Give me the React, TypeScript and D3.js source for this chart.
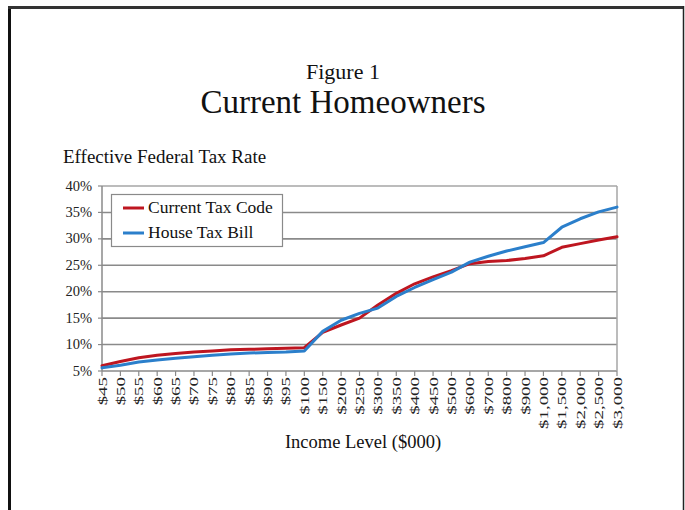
import React from "react";
import * as d3 from "d3";

const categories = ["$45","$50","$55","$60","$65","$70","$75","$80","$85","$90","$95","$100","$150","$200","$250","$300","$350","$400","$450","$500","$600","$700","$800","$900","$1,000","$1,500","$2,000","$2,500","$3,000"];
const currentTaxCode = [6.0,6.8,7.5,8.0,8.3,8.6,8.8,9.0,9.1,9.2,9.3,9.4,12.3,13.7,15.0,17.5,19.7,21.5,22.8,24.0,25.3,25.7,25.9,26.3,26.8,28.4,29.1,29.8,30.4];
const houseTaxBill = [5.6,6.1,6.7,7.1,7.4,7.7,8.0,8.2,8.4,8.5,8.6,8.8,12.5,14.6,15.9,16.9,19.1,20.8,22.3,23.7,25.6,26.7,27.7,28.5,29.3,32.2,33.8,35.1,36.0];
const yTicks = [5,10,15,20,25,30,35,40];
const seriesNames = ["Current Tax Code","House Tax Bill"];
const seriesColors = ["#BE1620","#2B7FCB"];

export default function App() {
  const left = 102, right = 617, top = 186, bottom = 371;
  const x = d3.scalePoint<string>().domain(categories).range([left, right]);
  const y = d3.scaleLinear().domain([5, 40]).range([bottom, top]);
  const line = d3.line<number>()
    .x((_, i) => x(categories[i]) as number)
    .y((d) => y(d));
  const series = [currentTaxCode, houseTaxBill];
  const font = "'Liberation Serif', 'Times New Roman', serif";
  return (
    <svg width={685} height={510} style={{ position: "absolute", left: 0, top: 0, background: "#fff" }} fontFamily={font}>
      <rect x={0} y={0} width={685} height={510} fill="#fff" />
      {/* frame */}
      <line x1={9.5} y1={6} x2={9.5} y2={510} stroke="#111" strokeWidth={3} />
      <line x1={8} y1={7.5} x2={684} y2={7.5} stroke="#333" strokeWidth={3} />
      <line x1={683.5} y1={6} x2={683.5} y2={510} stroke="#222" strokeWidth={1.5} />
      {/* titles */}
      <text x={343} y={79} textAnchor="middle" fontSize={22} fill="#111">Figure 1</text>
      <text x={343} y={113} textAnchor="middle" fontSize={33} fill="#111">Current Homeowners</text>
      <text x={63} y={163} fontSize={19} fill="#111">Effective Federal Tax Rate</text>
      <text x={363} y={448} textAnchor="middle" fontSize={18.5} fill="#111">Income Level ($000)</text>
      {/* gridlines */}
      {yTicks.map((t) => (
        <line key={t} x1={left} x2={right} y1={y(t)} y2={y(t)} stroke={t === 40 ? "#a6a6a6" : "#8a8a8a"} strokeWidth={t === 5 ? 1.5 : 1.6} />
      ))}
      <line x1={left} x2={left} y1={top} y2={bottom} stroke="#8a8a8a" strokeWidth={1.5} />
      <line x1={right} x2={right} y1={top} y2={bottom} stroke="#a6a6a6" strokeWidth={1.5} />
      {yTicks.map((t) => (
        <g key={"yl" + t}>
          <line x1={left - 4} x2={left} y1={y(t)} y2={y(t)} stroke="#8a8a8a" strokeWidth={1.2} />
          <text x={92} y={y(t) + 4.5} textAnchor="end" fontSize={14.5} fill="#222">{t}%</text>
        </g>
      ))}
      {categories.map((c) => (
        <g key={c}>
          <line x1={x(c)} x2={x(c)} y1={bottom} y2={bottom + 5} stroke="#8a8a8a" strokeWidth={1.2} />
          <text transform={`translate(${(x(c) as number) + 4.5},${bottom + 6}) rotate(-90) scale(1.4,1)`} textAnchor="end" fontSize={13.5} fill="#222">{c}</text>
        </g>
      ))}
      {/* lines */}
      {series.map((s, i) => (
        <path key={i} d={line(s) || ""} fill="none" stroke={seriesColors[i]} strokeWidth={3} strokeLinejoin="round" strokeLinecap="round" />
      ))}
      {/* legend */}
      <rect x={111.5} y={194.5} width={171} height={52} fill="#fff" stroke="#8a8a8a" strokeWidth={1.2} />
      {seriesNames.map((n, i) => (
        <g key={n}>
          <line x1={123} x2={144} y1={208 + i * 25} y2={208 + i * 25} stroke={seriesColors[i]} strokeWidth={3} />
          <text x={148} y={213 + i * 25} fontSize={17.5} fill="#111">{n}</text>
        </g>
      ))}
    </svg>
  );
}
